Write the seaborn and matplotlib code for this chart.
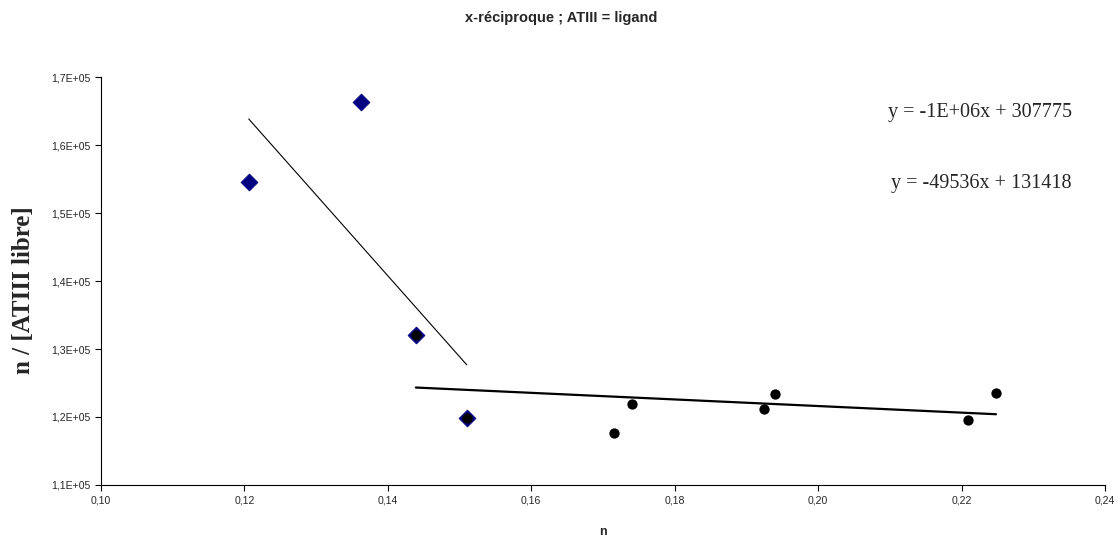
import numpy as np
import pandas as pd
import seaborn as sns
import matplotlib.pyplot as plt
from matplotlib.ticker import FuncFormatter, MultipleLocator

# series 1 : diamonds (ATIII first points)
x_diamond = [0.1206, 0.1363, 0.1439, 0.1510]
y_diamond = [154560, 166320, 132010, 119900]

# series 2 : circles
x_circle = [0.1439, 0.1510, 0.1715, 0.1741, 0.1925, 0.1940, 0.2209, 0.2248]
y_circle = [132010, 119900, 117650, 121910, 121180, 123330, 119560, 123530]

# trendline equations as shown on the chart
equations = ["y = -1E+06x + 307775", "y = -49536x + 131418"]

title = "x-réciproque ; ATIII = ligand"
xlabel = "n"
ylabel = "n / [ATIII libre]"

sns.set_style("ticks")
plt.rcParams["font.family"] = ["Liberation Sans", "DejaVu Sans"]

df1 = pd.DataFrame({"x": x_diamond, "y": y_diamond})
df2 = pd.DataFrame({"x": x_circle, "y": y_circle})

fig = plt.figure(figsize=(11.2, 5.39), dpi=100)
ax = fig.add_axes([0.0902, 0.1002, 0.8964, 0.7569])

sns.scatterplot(data=df1, x="x", y="y", marker="D", s=75, color="#000080",
                edgecolor="#000080", linewidth=0.5, ax=ax, zorder=3)
sns.scatterplot(data=df2, x="x", y="y", marker="o", s=55, color="black",
                edgecolor="black", linewidth=0, ax=ax, zorder=4)

# linear trendlines
sns.regplot(data=df1, x="x", y="y", scatter=False, ci=None, truncate=True,
            line_kws={"color": "black", "linewidth": 0.8, "zorder": 5}, ax=ax)
sns.regplot(data=df2, x="x", y="y", scatter=False, ci=None, truncate=True,
            line_kws={"color": "black", "linewidth": 1.6, "zorder": 5}, ax=ax)

ax.set_xlim(0.10, 0.24)
ax.set_ylim(110000, 170000)
ax.xaxis.set_major_locator(MultipleLocator(0.02))
ax.yaxis.set_major_locator(MultipleLocator(10000))
ax.xaxis.set_major_formatter(FuncFormatter(lambda v, p: f"{v:.2f}".replace(".", ",")))
ax.yaxis.set_major_formatter(FuncFormatter(lambda v, p: f"{v:.1E}".replace(".", ",")))
ax.tick_params(axis="both", labelsize=7.6, length=4, width=0.8, direction="out", color="black")
sns.despine(ax=ax)
for sp in ["left", "bottom"]:
    ax.spines[sp].set_linewidth(0.8)
    ax.spines[sp].set_color("black")

ax.set_xlabel(xlabel, fontsize=9, fontweight="bold")
ax.xaxis.set_label_coords(0.5, -0.1)
ax.set_ylabel(ylabel, fontsize=18, fontweight="bold", family=["Liberation Serif"])
ax.yaxis.set_label_coords(-0.066, 0.478)

ax.text(0.967, 0.912, equations[0], transform=ax.transAxes, ha="right", va="center",
        fontsize=14.5, family=["Liberation Serif"])
ax.text(0.967, 0.738, equations[1], transform=ax.transAxes, ha="right", va="center",
        fontsize=14.5, family=["Liberation Serif"])

fig.text(0.501, 0.967, title, ha="center", va="center", fontsize=10.5, fontweight="bold")

fig.savefig("out.png", dpi=100)
